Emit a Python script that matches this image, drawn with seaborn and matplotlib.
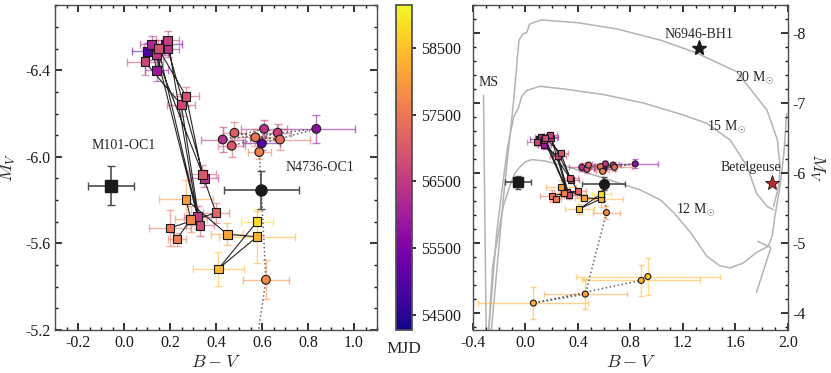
import numpy as np
import matplotlib
matplotlib.use("Agg")
import matplotlib.pyplot as plt
import seaborn as sns
from matplotlib.colors import Normalize
from matplotlib.cm import ScalarMappable
from matplotlib.ticker import MultipleLocator

# M101-OC1 epochs (squares), in time order
sq_bv = [0.103, 0.181, 0.142, 0.120, 0.349, 0.191, 0.142, 0.320, 0.190, 0.091, 0.249, 0.330,
         0.149, 0.270, 0.340, 0.400, 0.200, 0.230, 0.290, 0.270, 0.449, 0.578, 0.410, 0.578]
sq_mv = [-6.488, -6.519, -6.399, -6.520, -5.900, -6.499, -6.471, -5.723, -6.539, -6.439, -6.240, -5.683,
         -6.501, -6.280, -5.920, -5.742, -5.671, -5.620, -5.711, -5.803, -5.642, -5.631, -5.482, -5.700]
sq_bv_err = [0.07, 0.07, 0.05, 0.05, 0.06, 0.05, 0.06, 0.06, 0.05, 0.08, 0.06, 0.06,
             0.06, 0.057, 0.06, 0.058, 0.09, 0.04, 0.07, 0.117, 0.07, 0.165, 0.11, 0.07]
sq_mv_err = [0.04, 0.03, 0.05, 0.04, 0.04, 0.04, 0.05, 0.05, 0.04, 0.06, 0.05, 0.05,
             0.04, 0.043, 0.04, 0.046, 0.083, 0.03, 0.06, 0.09, 0.05, 0.12, 0.077, 0.057]
sq_mjd = [54900, 55300, 55900, 56150, 56300, 56350, 56400, 56500, 56550, 56650, 56700, 56800,
          56850, 56900, 57000, 57200, 57450, 57550, 57700, 58000, 58100, 58300, 58400, 58800]

# N4736-OC1 epochs (circles), in time order
oc_bv = [0.599, 0.836, 0.429, 0.609, 0.668, 0.468, 0.480, 0.678, 0.571, 0.588, 0.617, 0.456, 0.060, 0.882, 0.933]
oc_mv = [-6.062, -6.129, -6.080, -6.129, -6.111, -6.051, -6.111, -6.080, -6.090, -6.022, -5.432, -4.264, -4.135, -4.460, -4.516]
oc_bv_err = [0.08, 0.17, 0.096, 0.10, 0.06, 0.06, 0.05, 0.13, 0.08, 0.05, 0.10, 0.315, 0.42, 0.45, 0.55]
oc_mv_err = [0.03, 0.065, 0.06, 0.04, 0.04, 0.05, 0.05, 0.05, 0.04, 0.03, 0.09, 0.21, 0.23, 0.22, 0.27]
oc_mjd = [55000, 55700, 56300, 56400, 56600, 57000, 57100, 57300, 57450, 57600, 57800, 58150, 58250, 58350, 58450]

# mean positions of the two sources
m101_bv, m101_mv, m101_bv_err, m101_mv_err = -0.058, -5.866, 0.10, 0.09
n4736_bv, n4736_mv, n4736_bv_err, n4736_mv_err = 0.597, -5.846, 0.163, 0.088

# comparison stars
bh1_bv, bh1_mv = 1.32, -7.79
betel_bv, betel_mv = 1.88, -5.86

# evolutionary tracks
ms_bv = [-0.32, -0.30]
ms_mv = [-7.11, -3.75]
t12_bv = [-0.28, -0.25, -0.17, -0.12, -0.08, -0.04, 0.0, 0.05, 0.15, 0.30, 0.52, 0.87, 1.03, 1.13, 1.26,
          1.38, 1.48, 1.56, 1.66, 1.76, 1.85, 1.88, 1.90, 1.94, 1.97, 1.99]
t12_mv = [-3.75, -4.67, -5.52, -5.81, -6.0, -6.09, -6.16, -6.19, -6.17, -6.10, -5.97, -5.76, -5.61, -5.43, -5.14,
          -4.81, -4.67, -4.64, -4.71, -4.86, -4.95, -5.10, -5.37, -5.81, -6.30, -6.85]
t12b_bv = [1.77, 1.87, 1.76]
t12b_mv = [-5.02, -4.93, -4.29]
t15_bv = [-0.28, -0.22, -0.14, -0.09, -0.05, -0.03, 0.01, 0.11, 0.30, 0.60, 0.90, 1.20, 1.38, 1.56, 1.69, 1.76, 1.84, 1.89]
t15_mv = [-3.75, -5.14, -6.33, -6.80, -6.95, -7.09, -7.18, -7.24, -7.20, -7.12, -7.00, -6.83, -6.71, -6.47, -6.09, -5.71, -5.52, -5.47]
t20_bv = [-0.26, -0.17, -0.09, -0.05, -0.02, 0.01, 0.03, 0.12, 0.40, 0.70, 1.03, 1.30, 1.61, 1.84, 1.92, 1.94, 1.93, 1.89]
t20_mv = [-3.75, -5.61, -7.04, -7.90, -7.99, -8.01, -8.13, -8.19, -8.15, -8.06, -7.90, -7.72, -7.45, -6.90, -6.47, -6.09, -5.81, -5.52]

cb_ticks = [54500, 55500, 56500, 57500, 58500]

sns.set_theme(style="ticks")
plt.rcParams['font.family'] = ['Liberation Serif', 'DejaVu Serif']
plt.rcParams['mathtext.fontset'] = 'cm'
plt.rcParams['axes.unicode_minus'] = False

cmap = plt.get_cmap('plasma')
norm = Normalize(vmin=54270, vmax=59140)


def draw_data(ax, ms, cap, big):
    for x, y, xe, ye, m in zip(sq_bv, sq_mv, sq_bv_err, sq_mv_err, sq_mjd):
        ax.errorbar(x, y, xerr=xe, yerr=ye, fmt='none', ecolor=cmap(norm(m)), alpha=0.55,
                    elinewidth=1, capsize=cap, zorder=1)
    for x, y, xe, ye, m in zip(oc_bv, oc_mv, oc_bv_err, oc_mv_err, oc_mjd):
        ax.errorbar(x, y, xerr=xe, yerr=ye, fmt='none', ecolor=cmap(norm(m)), alpha=0.55,
                    elinewidth=1, capsize=cap, zorder=1)
    ax.plot(sq_bv, sq_mv, '-', color='0.15', lw=0.8, zorder=2)
    ax.plot(oc_bv, oc_mv, ':', color='0.4', lw=1.1, zorder=2)
    sns.scatterplot(x=sq_bv, y=sq_mv, hue=sq_mjd, palette='plasma', hue_norm=norm, marker='s',
                    s=ms ** 2, edgecolor='k', linewidth=0.8, legend=False, ax=ax, zorder=3)
    sns.scatterplot(x=oc_bv, y=oc_mv, hue=oc_mjd, palette='plasma', hue_norm=norm, marker='o',
                    s=ms ** 2, edgecolor='k', linewidth=0.8, legend=False, ax=ax, zorder=3)
    ax.errorbar(m101_bv, m101_mv, xerr=m101_bv_err, yerr=m101_mv_err, fmt='s', color='k',
                ecolor='0.3', ms=big, capsize=cap, elinewidth=1.2, zorder=4)
    ax.errorbar(n4736_bv, n4736_mv, xerr=n4736_bv_err, yerr=n4736_mv_err, fmt='o', color='k',
                ecolor='0.3', ms=big, capsize=cap, elinewidth=1.2, zorder=4)


def style_ax(ax):
    ax.tick_params(which='both', direction='in', top=True, right=True, labelsize=11.5, colors='k')
    ax.tick_params(which='major', length=5)
    ax.tick_params(which='minor', length=2.5)
    for s in ax.spines.values():
        s.set_color('0.3')
        s.set_linewidth(1)


fig = plt.figure(figsize=(8.31, 3.73), dpi=100)
ax1 = fig.add_axes([0.0662, 0.1153, 0.3875, 0.8705])
cax = fig.add_axes([0.4765, 0.1153, 0.0193, 0.8705])
ax2 = fig.add_axes([0.5692, 0.1153, 0.379, 0.8705])

# left panel
draw_data(ax1, 6.3, 3, 8)
ax1.set_xlim(-0.3, 1.1)
ax1.set_ylim(-5.2, -6.7)
ax1.xaxis.set_minor_locator(MultipleLocator(0.05))
ax1.yaxis.set_minor_locator(MultipleLocator(0.1))
ax1.set_xticks([-0.2, 0.0, 0.2, 0.4, 0.6, 0.8, 1.0])
ax1.set_xticklabels(['-0.2', '0.0', '0.2', '0.4', '0.6', '0.8', '1.0'])
ax1.set_yticks([-6.4, -6.0, -5.6, -5.2])
ax1.set_yticklabels(['-6.4', '-6.0', '-5.6', '-5.2'])
ax1.set_xlabel(r'$B-V$', fontsize=13, labelpad=2)
ax1.set_ylabel(r'$M_V$', fontsize=13, labelpad=5)
ax1.text(0.0, -6.05, 'M101-OC1', ha='center', va='center', fontsize=10)
ax1.text(0.85, -5.95, 'N4736-OC1', ha='center', va='center', fontsize=10)
style_ax(ax1)

# colorbar
sm = ScalarMappable(norm=norm, cmap=cmap)
cb = fig.colorbar(sm, cax=cax, ticks=cb_ticks)
cb.ax.tick_params(labelsize=11.5, colors='k', length=3)
cb.outline.set_edgecolor('0.3')
cax.set_xlabel('MJD', fontsize=12.5, labelpad=8)

# right panel
tc = '0.7'
ax2.plot(ms_bv, ms_mv, color=tc, lw=1.1, zorder=0)
ax2.plot(t12_bv, t12_mv, color=tc, lw=1.1, zorder=0)
ax2.plot(t12b_bv, t12b_mv, color=tc, lw=1.1, zorder=0)
ax2.plot(t15_bv, t15_mv, color=tc, lw=1.1, zorder=0)
ax2.plot(t20_bv, t20_mv, color=tc, lw=1.1, zorder=0)
draw_data(ax2, 4.3, 2, 7)
ax2.plot(bh1_bv, bh1_mv, '*', color='k', ms=11, zorder=5)
ax2.plot(betel_bv, betel_mv, '*', color='#c1272d', mec='k', mew=0.6, ms=11, zorder=5)
ax2.text(bh1_bv, -7.98, 'N6946-BH1', ha='center', va='center', fontsize=10)
ax2.text(1.72, -6.07, 'Betelgeuse', ha='center', va='center', fontsize=10)
ax2.text(1.75, -7.37, r'20 M$_{\odot}$', ha='center', va='center', fontsize=10)
ax2.text(1.53, -6.67, r'15 M$_{\odot}$', ha='center', va='center', fontsize=10)
ax2.text(1.30, -5.48, r'12 M$_{\odot}$', ha='center', va='center', fontsize=10)
ax2.text(-0.28, -7.30, 'MS', ha='center', va='center', fontsize=10)
ax2.set_xlim(-0.4, 2.0)
ax2.set_ylim(-3.75, -8.4)
ax2.xaxis.set_minor_locator(MultipleLocator(0.1))
ax2.yaxis.set_minor_locator(MultipleLocator(0.2))
ax2.set_xticks([-0.4, 0.0, 0.4, 0.8, 1.2, 1.6, 2.0])
ax2.set_xticklabels(['-0.4', '0.0', '0.4', '0.8', '1.2', '1.6', '2.0'])
ax2.set_yticks([-8, -7, -6, -5, -4])
ax2.set_yticklabels(['-8', '-7', '-6', '-5', '-4'])
ax2.yaxis.tick_right()
ax2.yaxis.set_label_position('right')
ax2.set_xlabel(r'$B-V$', fontsize=13, labelpad=2)
ax2.set_ylabel(r'$M_V$', fontsize=13, rotation=270, labelpad=14)
style_ax(ax2)
ax2.tick_params(which='both', left=True, labelleft=False, labelright=True)

fig.savefig('out.png', dpi=100)
